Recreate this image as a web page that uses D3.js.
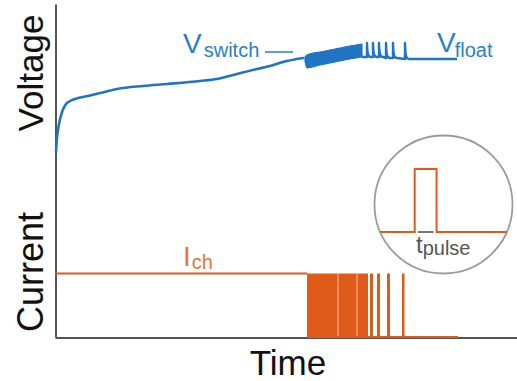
<!DOCTYPE html>
<html>
<head>
<meta charset="utf-8">
<script src="https://cdn.jsdelivr.net/npm/d3@7/dist/d3.min.js"></script>
<style>
  html, body { margin: 0; padding: 0; background: #fff; }
  svg { display: block; font-family: "Liberation Sans", Arial, Helvetica, sans-serif; }
</style>
</head>
<body>
<svg id="chart" width="517" height="381"></svg>
<script>
// ---- data (arbitrary time / voltage / current units) ----
// charging voltage before the switch point
const chargeT = [1, 2, 4, 7, 11, 15, 23, 33, 45, 62, 88, 112, 145, 162, 182, 202, 215, 228, 248];
const chargeV = [185, 199, 213, 225, 233, 236, 239, 241, 244, 248, 251, 253, 256, 258, 263, 268, 271, 275, 279];
// dense pulsing band just after V_switch
const bandT  = [250, 252, 265, 280, 295, 307];
const bandHi = [280, 282, 285, 288, 291, 293];
const bandLo = [276, 269, 272, 275, 278, 280];
// separated voltage spikes while pulses thin out
const spikeT    = [312, 318, 324, 331, 338, 350];
const spikePeak = [294, 294, 294, 294, 294, 294];
const spikeBase = [280, 280, 280, 279, 279, 278];
const spikeDecay = 4;
const floatV = 278;
const floatEndT = 402;

// current: constant charge current, then pulses
const Ich = 1;
const chargeEndCurrentT = 252;
const pulseStart = [252, 283.3, 302.3, 315, 322, 332, 347];
const pulseEnd   = [282.7, 301.7, 313, 318, 325, 335, 349.5];
const currentEndT = 403;

// inset: single pulse of width t_pulse
const insetPulse = [40.5, 62.5];
const insetDomain = [0, 139];

const axisLabels = { x: "Time", y1: "Voltage", y2: "Current" };

// ---- drawing ----
const svg = d3.select("#chart");
const blue = "#1f74c4", blueText = "#2a7fc8";
const orange = "#e05a1a", orangeText = "#e8743b";
const axisGray = "#555";

const x = d3.scaleLinear().domain([0, 462]).range([55, 517]);
const yV = d3.scaleLinear().domain([0, 333]).range([337, 4]);
const yI = d3.scaleLinear().domain([0, Ich]).range([337, 273.5]);

// axes (no ticks)
svg.append("g")
  .attr("transform", "translate(0,337.5)")
  .call(d3.axisBottom(x).tickValues([]).tickSizeOuter(0))
  .call(g => g.select(".domain").attr("stroke", axisGray).attr("stroke-width", 2));
svg.append("g")
  .attr("transform", "translate(55.5,0)")
  .call(d3.axisLeft(yV).tickValues([]).tickSizeOuter(0))
  .call(g => g.select(".domain").attr("stroke", axisGray).attr("stroke-width", 2));

// axis titles
svg.append("text").attr("x", 288).attr("y", 375).attr("text-anchor", "middle")
  .attr("font-size", 35).attr("fill", "#111").text(axisLabels.x);
svg.append("text").attr("transform", "translate(43,73) rotate(-90)").attr("text-anchor", "middle")
  .attr("font-size", 35).attr("fill", "#111").text(axisLabels.y1);
svg.append("text").attr("transform", "translate(43,272) rotate(-90)").attr("text-anchor", "middle")
  .attr("font-size", 36).attr("fill", "#111").text(axisLabels.y2);

// voltage: charging curve
const chargePts = chargeT.map((t, i) => [t, chargeV[i]]);
svg.append("path")
  .attr("d", d3.line().x(d => x(d[0])).y(d => yV(d[1])).curve(d3.curveMonotoneX)(chargePts))
  .attr("fill", "none").attr("stroke", blue).attr("stroke-width", 2.6).attr("stroke-linecap", "round");

// voltage: dense band
const bandPts = bandT.map((t, i) => ({ t, hi: bandHi[i], lo: bandLo[i] }));
svg.append("path")
  .attr("d", d3.area().x(d => x(d.t)).y0(d => yV(d.lo)).y1(d => yV(d.hi)).curve(d3.curveMonotoneX)(bandPts))
  .attr("fill", blue).attr("stroke", blue).attr("stroke-width", 1.2).attr("stroke-linejoin", "round");

// voltage: spikes then float level
const p = d3.path();
p.moveTo(x(bandT[bandT.length - 1]), yV(bandLo[bandLo.length - 1]));
spikeT.forEach((t, i) => {
  const xs = x(t), yb = yV(spikeBase[i]), yp = yV(spikePeak[i]);
  p.lineTo(xs, yb);
  p.lineTo(xs, yp);
  p.bezierCurveTo(xs + 0.3, yb - 2.5, xs + 1.2, yb, x(t + spikeDecay), yb);
});
p.lineTo(x(floatEndT), yV(floatV));
svg.append("path").attr("d", p.toString())
  .attr("fill", "none").attr("stroke", blue).attr("stroke-width", 2.4).attr("stroke-linejoin", "round");

// voltage labels
const vs = svg.append("text").attr("x", 183).attr("y", 53).attr("fill", blueText).attr("font-size", 28);
vs.append("tspan").text("V");
vs.append("tspan").attr("font-size", 20).attr("dy", 4).attr("dx", 2).text("switch");
svg.append("line").attr("x1", 265).attr("x2", 293).attr("y1", 52).attr("y2", 52)
  .attr("stroke", blueText).attr("stroke-width", 1.5);
const vf = svg.append("text").attr("x", 437).attr("y", 52).attr("fill", blueText).attr("font-size", 28);
vf.append("tspan").text("V");
vf.append("tspan").attr("font-size", 20).attr("dy", 5).attr("dx", -1).text("float");

// current: charge level
svg.append("line")
  .attr("x1", x(0)).attr("x2", x(chargeEndCurrentT)).attr("y1", yI(Ich)).attr("y2", yI(Ich))
  .attr("stroke", orange).attr("stroke-width", 1.8);
// current: pulses
svg.append("g").selectAll("rect").data(pulseStart.map((s, i) => [s, pulseEnd[i]])).join("rect")
  .attr("x", d => x(d[0])).attr("width", d => x(d[1]) - x(d[0]))
  .attr("y", yI(Ich)).attr("height", yI(0) - yI(Ich))
  .attr("fill", orange);
// current: zero after pulsing stops
svg.append("line")
  .attr("x1", x(pulseStart[0])).attr("x2", x(currentEndT)).attr("y1", yI(0)).attr("y2", yI(0))
  .attr("stroke", orange).attr("stroke-width", 2.2);

const ich = svg.append("text").attr("x", 183).attr("y", 266).attr("fill", orangeText).attr("font-size", 28);
ich.append("tspan").text("I");
ich.append("tspan").attr("font-size", 20).attr("dy", 3).attr("dx", 1).text("ch");

// inset: a single pulse
const cx = 443.5, cy = 204.5, r = 69;
const xi = d3.scaleLinear().domain(insetDomain).range([cx - r, cx + r]);
const yi = d3.scaleLinear().domain([0, 1]).range([232, 169]);
svg.append("clipPath").attr("id", "insetClip")
  .append("circle").attr("cx", cx).attr("cy", cy).attr("r", r);
const inset = svg.append("g");
inset.append("circle").attr("cx", cx).attr("cy", cy).attr("r", r)
  .attr("fill", "#fff").attr("stroke", "#9b9b9b").attr("stroke-width", 1.8);
const insetPts = [[insetDomain[0], 0], [insetPulse[0], 0], [insetPulse[0], 1], [insetPulse[1], 1], [insetPulse[1], 0], [insetDomain[1], 0]];
inset.append("path").attr("clip-path", "url(#insetClip)")
  .attr("d", d3.line().x(d => xi(d[0])).y(d => yi(d[1]))(insetPts))
  .attr("fill", "none").attr("stroke", orange).attr("stroke-width", 2);
inset.append("line")
  .attr("x1", xi(insetPulse[0]) + 3).attr("x2", xi(insetPulse[1]) - 3)
  .attr("y1", yi(0)).attr("y2", yi(0))
  .attr("stroke", "#777").attr("stroke-width", 2);
const tp = inset.append("text").attr("x", 416).attr("y", 253).attr("fill", "#555").attr("font-size", 24);
tp.append("tspan").text("t");
tp.append("tspan").attr("font-size", 20).attr("dy", 2).text("pulse");
</script>
</body>
</html>
